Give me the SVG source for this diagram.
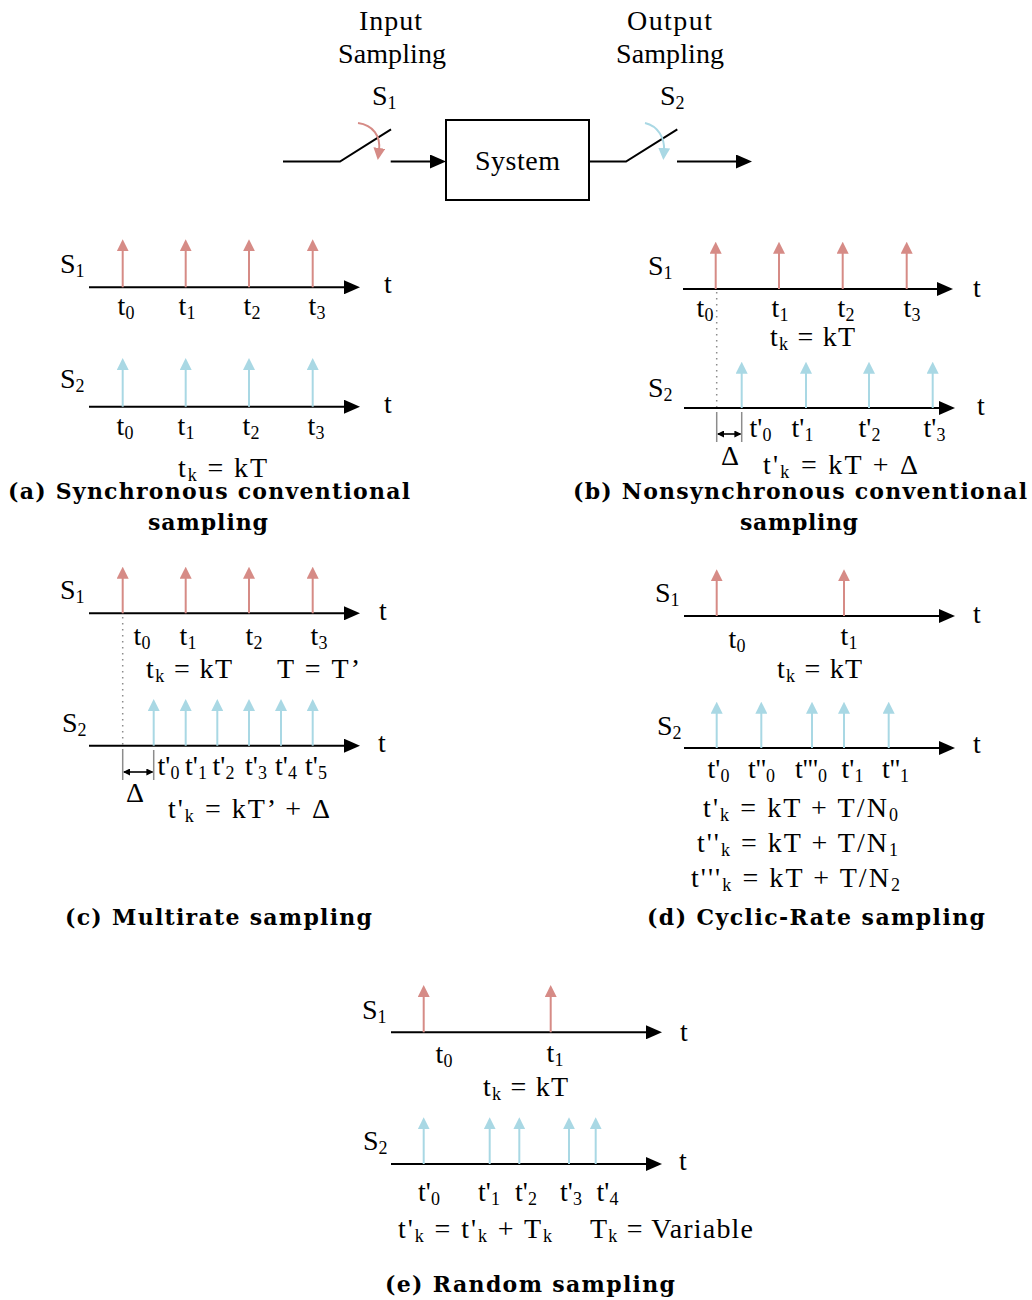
<svg xmlns="http://www.w3.org/2000/svg" width="1032" height="1300" viewBox="0 0 1032 1300">
<style>
.lbl{font-family:"Liberation Serif","Times New Roman",serif;font-size:28px;fill:#000}
.cap{font-family:"DejaVu Serif","Liberation Serif",serif;font-weight:bold;font-size:22px;fill:#000}
.s{font-size:18px}
.ln{stroke:#000;stroke-width:2;fill:none}
.ax{stroke:#000;stroke-width:2;fill:none;marker-end:url(#ak)}
.r{stroke:#d68b86;stroke-width:2;fill:none;marker-end:url(#ar)}
.b{stroke:#a9d8e4;stroke-width:2;fill:none;marker-end:url(#ab)}
.dot{stroke:#8c8c8c;stroke-width:1.5;stroke-dasharray:1.5 4.5;fill:none}
.tick{stroke:#8c8c8c;stroke-width:1.5}
.dbl{stroke:#000;stroke-width:1.6;marker-start:url(#ad);marker-end:url(#ad)}
.box{fill:#fff;stroke:#000;stroke-width:2}
</style>
<defs>
<marker id="ak" markerUnits="userSpaceOnUse" markerWidth="16" markerHeight="14" refX="4" refY="7" orient="auto"><path d="M0,0 L16,7 L0,14 Z" fill="#000"/></marker>
<marker id="ar" markerUnits="userSpaceOnUse" markerWidth="12" markerHeight="12" refX="3" refY="6" orient="auto"><path d="M0,0 L12,6 L0,12 Z" fill="#d68b86"/></marker>
<marker id="ab" markerUnits="userSpaceOnUse" markerWidth="12" markerHeight="12" refX="3" refY="6" orient="auto"><path d="M0,0 L12,6 L0,12 Z" fill="#a9d8e4"/></marker>
<marker id="ad" markerUnits="userSpaceOnUse" markerWidth="7" markerHeight="7" refX="6" refY="3.5" orient="auto-start-reverse"><path d="M0,0 L7,3.5 L0,7 Z" fill="#000"/></marker>
</defs>

<!-- Top system diagram -->
<g id="labels-top">
<text class="lbl" x="359" y="30" textLength="63">Input</text>
<text class="lbl" x="338" y="63" textLength="108">Sampling</text>
<text class="lbl" x="372" y="105">S<tspan class="s" dy="4">1</tspan></text>
<text class="lbl" x="627" y="30" textLength="85">Output</text>
<text class="lbl" x="616" y="63" textLength="108">Sampling</text>
<text class="lbl" x="660" y="105">S<tspan class="s" dy="4">2</tspan></text>
</g>
<g id="input-switch">
<path class="ln" d="M283,161.5 L340,161.5 L391,129.3"/>
<path class="r" d="M358,123 C373,125 381,136 379,151"/>
</g>
<g id="system">
<rect class="box" x="446" y="120" width="143" height="80"/>
<text class="lbl" x="475" y="170" textLength="85">System</text>
</g>
<g id="output-switch">
<path class="ln" d="M589,161.5 L626,161.5 L677.3,129.3"/>
<path class="b" d="M645,123 C658,126 665,138 664,151"/>
</g>
<g id="connectors">
<line class="ax" x1="390.7" y1="161.5" x2="434" y2="161.5"/>
<line class="ax" x1="677" y1="161.5" x2="740" y2="161.5"/>
</g>

<!-- Panel (a) -->
<g id="panel-a">
<line class="ax" x1="89" y1="287.3" x2="348" y2="287.3"/>
<line class="r" x1="122.7" y1="287.3" x2="122.7" y2="248.3"/>
<line class="r" x1="185.7" y1="287.3" x2="185.7" y2="248.3"/>
<line class="r" x1="249" y1="287.3" x2="249" y2="248.3"/>
<line class="r" x1="312.7" y1="287.3" x2="312.7" y2="248.3"/>
<text class="lbl" x="60" y="273">S<tspan class="s" dy="4">1</tspan></text>
<text class="lbl" x="384" y="293">t</text>
<text class="lbl" x="126" y="315" text-anchor="middle">t<tspan class="s" dy="4">0</tspan></text>
<text class="lbl" x="187" y="315" text-anchor="middle">t<tspan class="s" dy="4">1</tspan></text>
<text class="lbl" x="252" y="315" text-anchor="middle">t<tspan class="s" dy="4">2</tspan></text>
<text class="lbl" x="317" y="315" text-anchor="middle">t<tspan class="s" dy="4">3</tspan></text>
<line class="ax" x1="89" y1="406.7" x2="348" y2="406.7"/>
<line class="b" x1="122.7" y1="406.7" x2="122.7" y2="367"/>
<line class="b" x1="185.7" y1="406.7" x2="185.7" y2="367"/>
<line class="b" x1="249" y1="406.7" x2="249" y2="367"/>
<line class="b" x1="312.7" y1="406.7" x2="312.7" y2="367"/>
<text class="lbl" x="60" y="388">S<tspan class="s" dy="4">2</tspan></text>
<text class="lbl" x="384" y="413">t</text>
<text class="lbl" x="125" y="435" text-anchor="middle">t<tspan class="s" dy="4">0</tspan></text>
<text class="lbl" x="186" y="435" text-anchor="middle">t<tspan class="s" dy="4">1</tspan></text>
<text class="lbl" x="251" y="435" text-anchor="middle">t<tspan class="s" dy="4">2</tspan></text>
<text class="lbl" x="316" y="435" text-anchor="middle">t<tspan class="s" dy="4">3</tspan></text>
<text class="lbl" x="178" y="477" textLength="89">t<tspan class="s" dy="4">k</tspan><tspan dy="-4"> = kT</tspan></text>
<text class="cap" x="8" y="499" textLength="402">(a) Synchronous conventional</text>
<text class="cap" x="148" y="530" textLength="120">sampling</text>
</g>

<!-- Panel (b) -->
<g id="panel-b">
<line class="dot" x1="716.7" y1="292" x2="716.7" y2="412"/>
<line class="ax" x1="683" y1="289" x2="941" y2="289"/>
<line class="r" x1="715.7" y1="289" x2="715.7" y2="250.7"/>
<line class="r" x1="779" y1="289" x2="779" y2="250.7"/>
<line class="r" x1="842.7" y1="289" x2="842.7" y2="250.7"/>
<line class="r" x1="906.7" y1="289" x2="906.7" y2="250.7"/>
<text class="lbl" x="648" y="275">S<tspan class="s" dy="4">1</tspan></text>
<text class="lbl" x="973" y="297">t</text>
<text class="lbl" x="705" y="317" text-anchor="middle">t<tspan class="s" dy="4">0</tspan></text>
<text class="lbl" x="780" y="317" text-anchor="middle">t<tspan class="s" dy="4">1</tspan></text>
<text class="lbl" x="846" y="317" text-anchor="middle">t<tspan class="s" dy="4">2</tspan></text>
<text class="lbl" x="912" y="317" text-anchor="middle">t<tspan class="s" dy="4">3</tspan></text>
<text class="lbl" x="770" y="346" textLength="85">t<tspan class="s" dy="4">k</tspan><tspan dy="-4"> = kT</tspan></text>
<line class="ax" x1="684" y1="408" x2="943" y2="408"/>
<line class="b" x1="741.7" y1="408" x2="741.7" y2="370.7"/>
<line class="b" x1="806" y1="408" x2="806" y2="370.7"/>
<line class="b" x1="869" y1="408" x2="869" y2="370.7"/>
<line class="b" x1="932.7" y1="408" x2="932.7" y2="370.7"/>
<text class="lbl" x="648" y="397">S<tspan class="s" dy="4">2</tspan></text>
<text class="lbl" x="977" y="415">t</text>
<line class="tick" x1="716.7" y1="412" x2="716.7" y2="442"/>
<line class="tick" x1="741.7" y1="412" x2="741.7" y2="442"/>
<line class="dbl" x1="718" y1="434" x2="740.4" y2="434"/>
<text class="lbl" x="760.5" y="437" text-anchor="middle">t'<tspan class="s" dy="4">0</tspan></text>
<text class="lbl" x="802.5" y="437" text-anchor="middle">t'<tspan class="s" dy="4">1</tspan></text>
<text class="lbl" x="869.5" y="437" text-anchor="middle">t'<tspan class="s" dy="4">2</tspan></text>
<text class="lbl" x="934.5" y="437" text-anchor="middle">t'<tspan class="s" dy="4">3</tspan></text>
<text class="lbl" x="721" y="465">Δ</text>
<text class="lbl" x="763" y="474" textLength="155">t'<tspan class="s" dy="4">k</tspan><tspan dy="-4"> = kT + Δ</tspan></text>
<text class="cap" x="573" y="499" textLength="454">(b) Nonsynchronous conventional</text>
<text class="cap" x="740" y="530" textLength="118">sampling</text>
</g>

<!-- Panel (c) -->
<g id="panel-c">
<line class="dot" x1="122.7" y1="617" x2="122.7" y2="750"/>
<line class="ax" x1="89" y1="613.3" x2="348" y2="613.3"/>
<line class="r" x1="122.7" y1="613.3" x2="122.7" y2="575.7"/>
<line class="r" x1="185.7" y1="613.3" x2="185.7" y2="575.7"/>
<line class="r" x1="249" y1="613.3" x2="249" y2="575.7"/>
<line class="r" x1="312.7" y1="613.3" x2="312.7" y2="575.7"/>
<text class="lbl" x="60" y="599">S<tspan class="s" dy="4">1</tspan></text>
<text class="lbl" x="379" y="620">t</text>
<text class="lbl" x="142" y="645" text-anchor="middle">t<tspan class="s" dy="4">0</tspan></text>
<text class="lbl" x="188" y="645" text-anchor="middle">t<tspan class="s" dy="4">1</tspan></text>
<text class="lbl" x="254" y="645" text-anchor="middle">t<tspan class="s" dy="4">2</tspan></text>
<text class="lbl" x="319" y="645" text-anchor="middle">t<tspan class="s" dy="4">3</tspan></text>
<text class="lbl" x="146" y="678" textLength="86">t<tspan class="s" dy="4">k</tspan><tspan dy="-4"> = kT</tspan></text>
<text class="lbl" x="277" y="678" textLength="83">T = T’</text>
<line class="ax" x1="89" y1="745.7" x2="348" y2="745.7"/>
<line class="b" x1="153.7" y1="745.7" x2="153.7" y2="708"/>
<line class="b" x1="185.7" y1="745.7" x2="185.7" y2="708"/>
<line class="b" x1="217.3" y1="745.7" x2="217.3" y2="708"/>
<line class="b" x1="249" y1="745.7" x2="249" y2="708"/>
<line class="b" x1="281" y1="745.7" x2="281" y2="708"/>
<line class="b" x1="312.7" y1="745.7" x2="312.7" y2="708"/>
<text class="lbl" x="62" y="732">S<tspan class="s" dy="4">2</tspan></text>
<text class="lbl" x="378" y="752">t</text>
<line class="tick" x1="122.7" y1="750" x2="122.7" y2="780"/>
<line class="tick" x1="153.7" y1="750" x2="153.7" y2="780"/>
<line class="dbl" x1="124" y1="772" x2="152.4" y2="772"/>
<text class="lbl" x="168.5" y="775" text-anchor="middle">t'<tspan class="s" dy="4">0</tspan></text>
<text class="lbl" x="196" y="775" text-anchor="middle">t'<tspan class="s" dy="4">1</tspan></text>
<text class="lbl" x="223.5" y="775" text-anchor="middle">t'<tspan class="s" dy="4">2</tspan></text>
<text class="lbl" x="256" y="775" text-anchor="middle">t'<tspan class="s" dy="4">3</tspan></text>
<text class="lbl" x="286" y="775" text-anchor="middle">t'<tspan class="s" dy="4">4</tspan></text>
<text class="lbl" x="316" y="775" text-anchor="middle">t'<tspan class="s" dy="4">5</tspan></text>
<text class="lbl" x="126" y="802">Δ</text>
<text class="lbl" x="168" y="818" textLength="162">t'<tspan class="s" dy="4">k</tspan><tspan dy="-4"> = kT’ + Δ</tspan></text>
<text class="cap" x="65" y="925" textLength="307">(c) Multirate sampling</text>
</g>

<!-- Panel (d) -->
<g id="panel-d">
<line class="ax" x1="684" y1="616" x2="943" y2="616"/>
<line class="r" x1="716.7" y1="616" x2="716.7" y2="578.3"/>
<line class="r" x1="844" y1="616" x2="844" y2="578.3"/>
<text class="lbl" x="655" y="602">S<tspan class="s" dy="4">1</tspan></text>
<text class="lbl" x="973" y="623">t</text>
<text class="lbl" x="737" y="648" text-anchor="middle">t<tspan class="s" dy="4">0</tspan></text>
<text class="lbl" x="849" y="645" text-anchor="middle">t<tspan class="s" dy="4">1</tspan></text>
<text class="lbl" x="777" y="678" textLength="85">t<tspan class="s" dy="4">k</tspan><tspan dy="-4"> = kT</tspan></text>
<line class="ax" x1="684" y1="748" x2="943" y2="748"/>
<line class="b" x1="716.7" y1="748" x2="716.7" y2="710.7"/>
<line class="b" x1="761.3" y1="748" x2="761.3" y2="710.7"/>
<line class="b" x1="812" y1="748" x2="812" y2="710.7"/>
<line class="b" x1="844" y1="748" x2="844" y2="710.7"/>
<line class="b" x1="888.7" y1="748" x2="888.7" y2="710.7"/>
<text class="lbl" x="657" y="735">S<tspan class="s" dy="4">2</tspan></text>
<text class="lbl" x="973" y="753">t</text>
<text class="lbl" x="718.5" y="778" text-anchor="middle">t'<tspan class="s" dy="4">0</tspan></text>
<text class="lbl" x="761.5" y="778" text-anchor="middle">t''<tspan class="s" dy="4">0</tspan></text>
<text class="lbl" x="811" y="778" text-anchor="middle">t'''<tspan class="s" dy="4">0</tspan></text>
<text class="lbl" x="852.5" y="778" text-anchor="middle">t'<tspan class="s" dy="4">1</tspan></text>
<text class="lbl" x="895.5" y="778" text-anchor="middle">t''<tspan class="s" dy="4">1</tspan></text>
<text class="lbl" x="703" y="817" textLength="195">t'<tspan class="s" dy="4">k</tspan><tspan dy="-4"> = kT + T/N</tspan><tspan class="s" dy="4">0</tspan></text>
<text class="lbl" x="697" y="852" textLength="201">t''<tspan class="s" dy="4">k</tspan><tspan dy="-4"> = kT + T/N</tspan><tspan class="s" dy="4">1</tspan></text>
<text class="lbl" x="691" y="887" textLength="209">t'''<tspan class="s" dy="4">k</tspan><tspan dy="-4"> = kT + T/N</tspan><tspan class="s" dy="4">2</tspan></text>
<text class="cap" x="647" y="925" textLength="338">(d) Cyclic-Rate sampling</text>
</g>

<!-- Panel (e) -->
<g id="panel-e">
<line class="ax" x1="391" y1="1032.3" x2="650" y2="1032.3"/>
<line class="r" x1="423.7" y1="1032.3" x2="423.7" y2="994"/>
<line class="r" x1="550.7" y1="1032.3" x2="550.7" y2="994"/>
<text class="lbl" x="362" y="1019">S<tspan class="s" dy="4">1</tspan></text>
<text class="lbl" x="680" y="1041">t</text>
<text class="lbl" x="444" y="1063" text-anchor="middle">t<tspan class="s" dy="4">0</tspan></text>
<text class="lbl" x="555" y="1062" text-anchor="middle">t<tspan class="s" dy="4">1</tspan></text>
<text class="lbl" x="483" y="1096" textLength="85">t<tspan class="s" dy="4">k</tspan><tspan dy="-4"> = kT</tspan></text>
<line class="ax" x1="391" y1="1164" x2="650" y2="1164"/>
<line class="b" x1="423.7" y1="1164" x2="423.7" y2="1126.3"/>
<line class="b" x1="489.7" y1="1164" x2="489.7" y2="1126.3"/>
<line class="b" x1="519.3" y1="1164" x2="519.3" y2="1126.3"/>
<line class="b" x1="569" y1="1164" x2="569" y2="1126.3"/>
<line class="b" x1="595.7" y1="1164" x2="595.7" y2="1126.3"/>
<text class="lbl" x="363" y="1150">S<tspan class="s" dy="4">2</tspan></text>
<text class="lbl" x="679" y="1170">t</text>
<text class="lbl" x="429" y="1201" text-anchor="middle">t'<tspan class="s" dy="4">0</tspan></text>
<text class="lbl" x="489" y="1201" text-anchor="middle">t'<tspan class="s" dy="4">1</tspan></text>
<text class="lbl" x="526" y="1201" text-anchor="middle">t'<tspan class="s" dy="4">2</tspan></text>
<text class="lbl" x="571" y="1201" text-anchor="middle">t'<tspan class="s" dy="4">3</tspan></text>
<text class="lbl" x="607.5" y="1201" text-anchor="middle">t'<tspan class="s" dy="4">4</tspan></text>
<text class="lbl" x="398" y="1238" textLength="154">t'<tspan class="s" dy="4">k</tspan><tspan dy="-4"> = t'</tspan><tspan class="s" dy="4">k</tspan><tspan dy="-4"> + T</tspan><tspan class="s" dy="4">k</tspan></text>
<text class="lbl" x="590" y="1238" textLength="163">T<tspan class="s" dy="4">k</tspan><tspan dy="-4"> = Variable</tspan></text>
<text class="cap" x="385" y="1292" textLength="290">(e) Random sampling</text>
</g>
</svg>
